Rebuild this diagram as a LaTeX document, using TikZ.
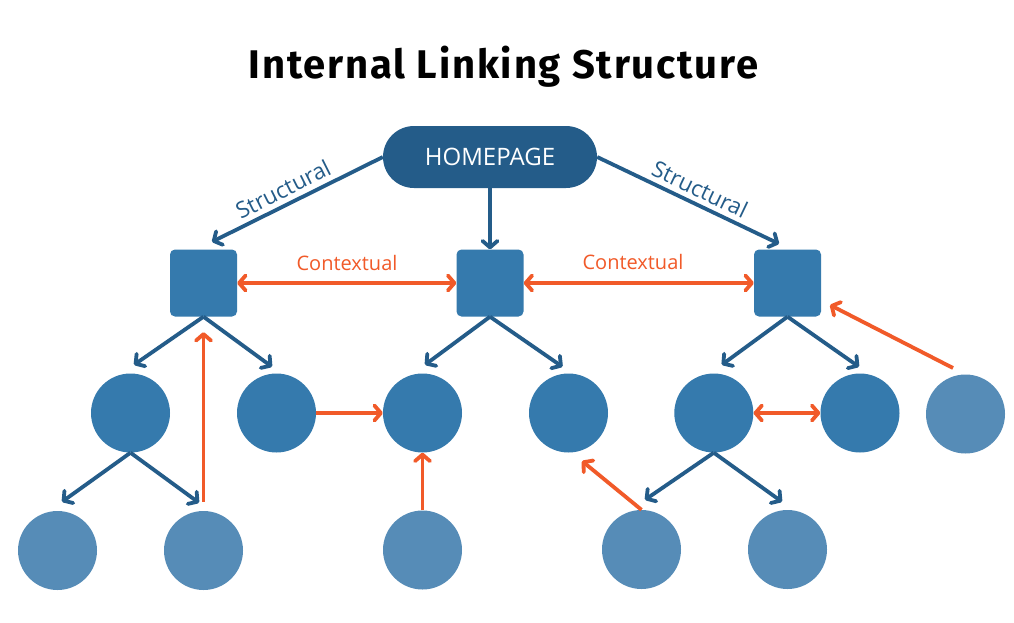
\documentclass[tikz,border=0pt]{standalone}
\usepackage{fontspec}
\setmainfont{Open Sans}
\newfontfamily\titlefont[LetterSpace=4.5]{Fira Sans}
\usetikzlibrary{arrows.meta,calc}
\definecolor{hpblue}{HTML}{245C89}
\definecolor{midblue}{HTML}{357AAD}
\definecolor{lightblue}{HTML}{568CB7}
\definecolor{ctxorange}{HTML}{F15A29}
\tikzset{
  hpnode/.style={draw=none,fill=hpblue,rounded corners=31pt,minimum width=214pt,minimum height=62pt,inner sep=0pt,text=white,font=\fontsize{24}{28}\selectfont},
  sqnode/.style={fill=midblue,rounded corners=5pt,minimum size=67pt,inner sep=0pt},
  lvtwo/.style={circle,fill=midblue,minimum size=79pt,inner sep=0pt},
  lvthree/.style={circle,fill=lightblue,minimum size=79pt,inner sep=0pt},
  lvlight/.style={circle,fill=lightblue,minimum size=79pt,inner sep=0pt},
  strarrow/.style={draw=hpblue,line width=3.8pt,-{Straight Barb[length=6.5pt,width=15pt,round]}},
  ctxarrow/.style={draw=ctxorange,line width=3.8pt,-{Straight Barb[length=6.5pt,width=15pt,round]}},
  ctxboth/.style={draw=ctxorange,line width=3.8pt,{Straight Barb[length=6.5pt,width=15pt,round]}-{Straight Barb[length=6.5pt,width=15pt,round]}},
  strlabel/.style={text=hpblue,font=\fontsize{22.5}{26}\selectfont,inner sep=0pt},
  ctxlabel/.style={text=ctxorange,font=\fontsize{20}{24}\selectfont,inner sep=0pt},
}
\begin{document}
\begin{tikzpicture}[x=1pt,y=-1pt]
\useasboundingbox (0,0) rectangle (1014,622);
\fill[white] (0,0) rectangle (1014,622);
% title
\node[font={\titlefont\bfseries\fontsize{40}{46}\selectfont},anchor=base] (title) at (503.5,78) {Internal Linking Structure};
% homepage
\node[hpnode] (hp) at (490,157) {HOMEPAGE};
% squares
\node[sqnode] (sqL) at (203.5,283) {};
\node[sqnode] (sqM) at (490,283) {};
\node[sqnode] (sqR) at (787.5,283) {};
% level 2
\node[lvtwo] (c1) at (130.5,413) {};
\node[lvtwo] (c2) at (276.5,413) {};
\node[lvtwo] (c3) at (422.5,413) {};
\node[lvtwo] (c4) at (568.5,413) {};
\node[lvtwo] (c5) at (713.8,413) {};
\node[lvtwo] (c6) at (860,413) {};
\node[lvlight] (c7) at (965.5,414) {};
% level 3
\node[lvthree] (d1) at (57.5,550.5) {};
\node[lvthree] (d2) at (203.5,550.5) {};
\node[lvthree] (d3) at (422.5,550) {};
\node[lvthree] (d4) at (641.5,549.5) {};
\node[lvthree] (d5) at (787.5,549.5) {};
% structural arrows
\draw[strarrow] (hp.west) -- ($(sqL.north)+(8.5,-7.5)$);
\draw[strarrow] (hp.south) -- (sqM.north);
\draw[strarrow] (hp.east) -- ($(sqR.north)+(-8.5,-5.5)$);
\draw[strarrow] (sqL.south) -- ($(c1.north)+(3.5,-8.5)$);
\draw[strarrow] (sqL.south) -- ($(c2.north)+(-4.5,-6.5)$);
\draw[strarrow] (sqM.south) -- ($(c3.north)+(2.5,-8.5)$);
\draw[strarrow] (sqM.south) -- ($(c4.north)+(-6,-6.5)$);
\draw[strarrow] (sqR.south) -- ($(c5.north)+(8,-8.5)$);
\draw[strarrow] (sqR.south) -- ($(c6.north)+(-1,-6.5)$);
\draw[strarrow] (c1.south) -- ($(d1.north)+(4.5,-9)$);
\draw[strarrow] (c1.south) -- ($(d2.north)+(-4.5,-8)$);
\draw[strarrow] (c5.south) -- ($(d4.north)+(3.5,-10)$);
\draw[strarrow] (c5.south) -- ($(d5.north)+(-5.5,-8)$);
% structural labels
\node[strlabel,rotate=26.6] (sl) at (283,189) {Structural};
\node[strlabel,rotate=-25.5] (sr) at (700,189) {Structural};
% contextual arrows
\draw[ctxboth] (sqL.east) -- (sqM.west);
\draw[ctxboth] (sqM.east) -- (sqR.west);
\node[ctxlabel] (cl) at (347,263) {Contextual};
\node[ctxlabel] (cr) at (633,262) {Contextual};
\draw[ctxarrow] ($(d2.north)+(0,-9)$) -- ($(sqL.south)+(0,15.5)$);
\draw[ctxarrow] (c2.east) -- (c3.west);
\draw[ctxarrow] (d3.north) -- (c3.south);
\draw[ctxarrow] (d4.north) -- ($(c4.center)+(13.5,48)$);
\draw[ctxboth] (c5.east) -- (c6.west);
\draw[ctxarrow] ($(c7.center)+(-12.5,-46)$) -- ($(sqR.center)+(42.5,22)$);
\end{tikzpicture}
\end{document}
